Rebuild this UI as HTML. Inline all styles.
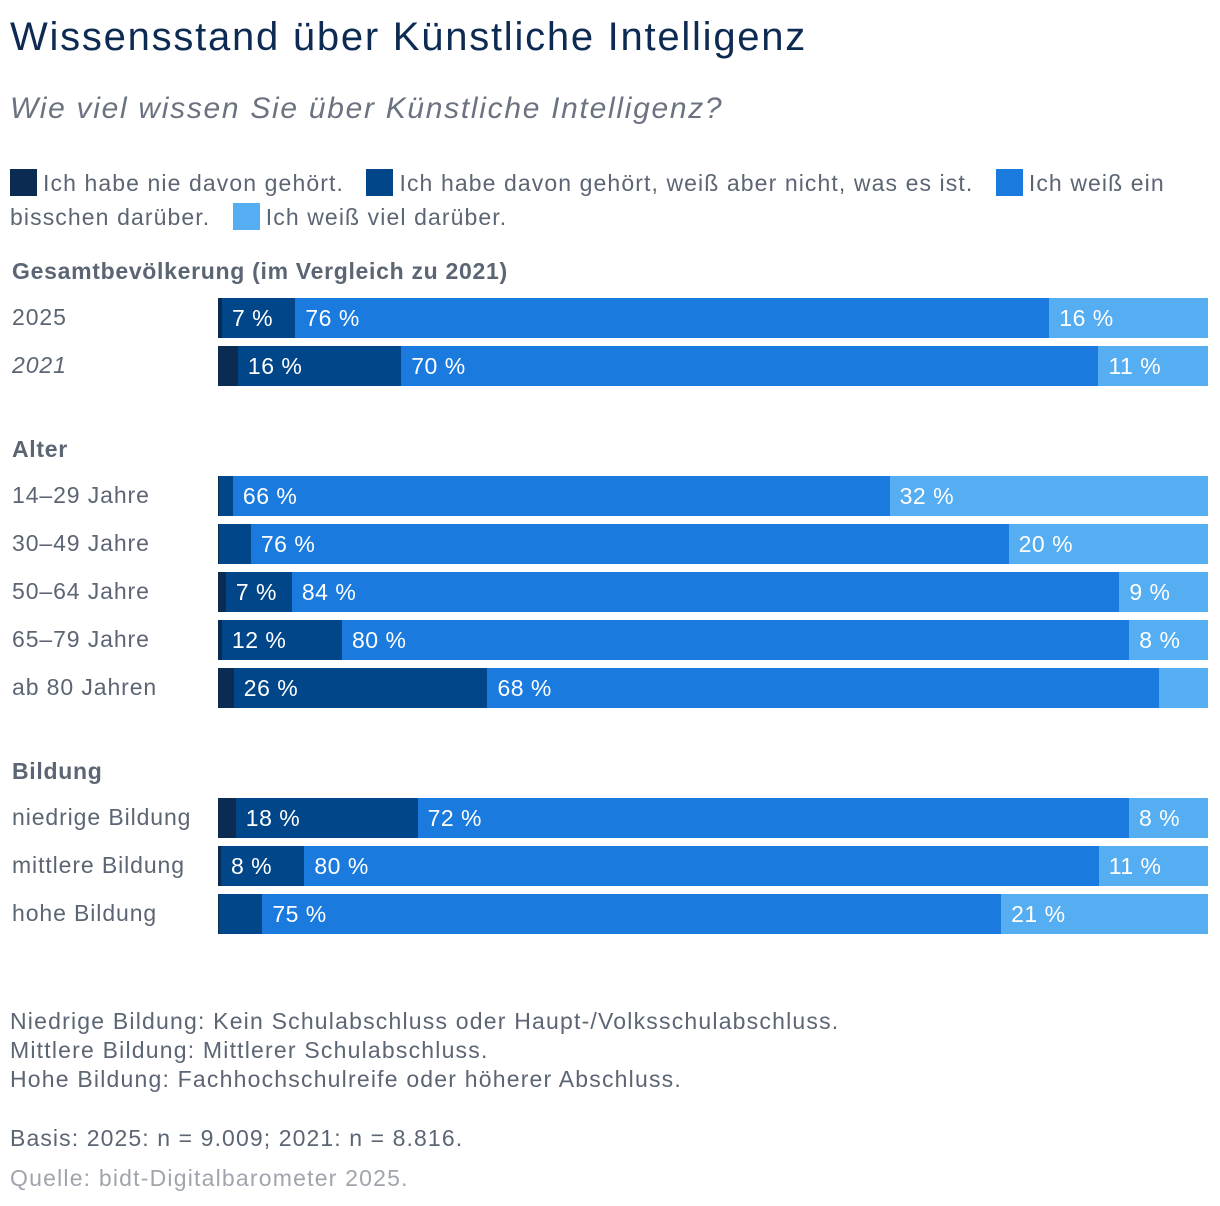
<!DOCTYPE html>
<html><head><meta charset="utf-8"><style>
body{margin:0;width:1220px;height:1206px;background:#fff;font-family:"Liberation Sans",sans-serif;color:#5b6573;position:relative;overflow:hidden}
.a{position:absolute;white-space:nowrap}
.sw{display:inline-block;width:27px;height:27px;vertical-align:-5px;margin-right:6px}
</style></head><body>
<div class="a" style="left:10px;top:15px;font-size:40px;color:#0d2b52;letter-spacing:1.75px">Wissensstand über Künstliche Intelligenz</div>
<div class="a" style="left:10px;top:92px;font-size:30px;font-style:italic;color:#6b7380;letter-spacing:1.7px">Wie viel wissen Sie über Künstliche Intelligenz?</div>
<div class="a" style="left:10px;top:166px;font-size:23px;line-height:34px;width:1200px;white-space:normal;letter-spacing:1.1px">
<span><span class="sw" style="background:#0b2b52"></span>Ich habe nie davon gehört.</span>&nbsp;&nbsp;
<span><span class="sw" style="background:#02468a"></span>Ich habe davon gehört, weiß aber nicht, was es ist.</span>&nbsp;&nbsp;
<span><span class="sw" style="background:#1a7ade"></span>Ich weiß ein bisschen darüber.</span>&nbsp;&nbsp;
<span><span class="sw" style="background:#55adf2"></span>Ich weiß viel darüber.</span>
</div>
<div id="chart"></div>
<div class="a" style="left:10px;top:1007px;font-size:23px;line-height:29px;letter-spacing:1.2px">Niedrige Bildung: Kein Schulabschluss oder Haupt-/Volksschulabschluss.<br>Mittlere Bildung: Mittlerer Schulabschluss.<br>Hohe Bildung: Fachhochschulreife oder höherer Abschluss.</div>
<div class="a" style="left:10px;top:1125px;font-size:23px;letter-spacing:1.1px">Basis: 2025: n = 9.009; 2021: n = 8.816.</div>
<div class="a" style="left:10px;top:1165px;font-size:23px;color:#a0a5ad;letter-spacing:1.2px">Quelle: bidt-Digitalbarometer 2025.</div>
<script>
const groups=["Gesamtbevölkerung (im Vergleich zu 2021)","Alter","Bildung"];
const categories=["2025","2021","14–29 Jahre","30–49 Jahre","50–64 Jahre","65–79 Jahre","ab 80 Jahren","niedrige Bildung","mittlere Bildung","hohe Bildung"];
const groupOf=[0,0,1,1,1,1,1,2,2,2];
const neverHeard=[0.4,2,0.1,0.1,0.8,0.4,1.6,1.8,0.3,0.1];
const heardNotKnow=[7.4,16.4,1.4,3.2,6.7,12.2,25.7,18.4,8.4,4.4];
const knowLittle=[76,70,66,76,84,80,68,72,80,75];
const knowMuch=[16,11,32,20,9,8,5,8,11,21];
const colors=["#0b2b52","#02468a","#1a7ade","#55adf2"];
const series=[neverHeard,heardNotKnow,knowLittle,knowMuch];
const c=document.getElementById('chart');
const x0=218,W=990,barH=40,step=48;
const groupTop=[258,436,758];
let rowIdx=[0,0,0];
categories.forEach((cat,i)=>{
  const g=groupOf[i];
  if(rowIdx[g]===0){
    const h=document.createElement('div');h.className='a';
    
    
    h.style.cssText=`left:12px;top:${groupTop[g]}px;font-size:23px;font-weight:bold;color:#5b6573;letter-spacing:0.7px`;
    h.textContent=groups[g];c.appendChild(h);
  }
  const y=groupTop[g]+40+rowIdx[g]*step;rowIdx[g]++;
  const l=document.createElement('div');l.className='a';
  
  
  l.style.cssText=`left:12px;top:${y+6}px;font-size:23px;letter-spacing:0.9px;${cat==='2021'?'font-style:italic;':''}`;
  l.textContent=cat;c.appendChild(l);
  const tot=series.reduce((s,a)=>s+a[i],0);
  let acc=0;
  series.forEach((arr,k)=>{
    const v=arr[i];const x=x0+acc/tot*W;const w=v/tot*W;acc+=v;
    const b=document.createElement('div');b.className='a';
    
    
    b.style.cssText=`left:${x}px;top:${y}px;width:${w+0.5}px;height:${barH}px;background:${colors[k]};color:#fff;font-size:23px;line-height:${barH}px;padding-left:10px;box-sizing:border-box;overflow:hidden;letter-spacing:0.5px`;
    if(v>=6.5&&k>0)b.textContent=Math.round(v)+' %';
    c.appendChild(b);
  });
});
</script>
</body></html>
